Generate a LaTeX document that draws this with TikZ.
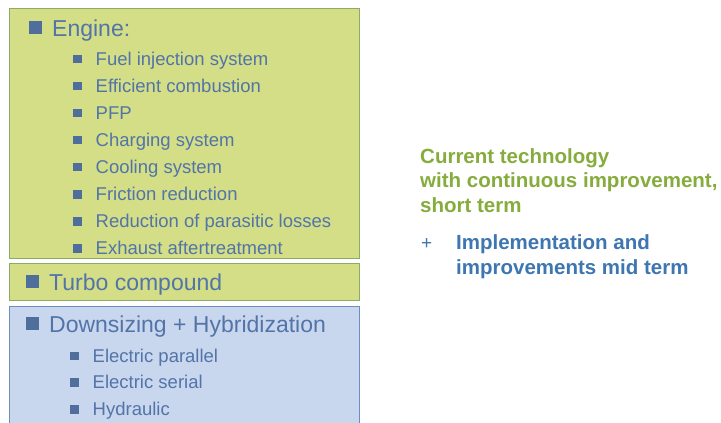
\documentclass[tikz,border=0pt]{standalone}
\usepackage{fontspec}
\setmainfont{Liberation Sans}
\usepackage{tikz}
\usetikzlibrary{
    positioning
}
\definecolor{enginefill}{RGB}{212,222,134}
\definecolor{engineline}{RGB}{138,172,104}
\definecolor{hybridfill}{RGB}{201,215,238}
\definecolor{hybridline}{RGB}{108,142,188}
\definecolor{itemtext}{RGB}{82,116,168}
\definecolor{bulletcol}{RGB}{80,110,156}
\definecolor{termgreen}{RGB}{134,172,62}
\definecolor{termblue}{RGB}{62,118,178}
\newcommand{\bigsq}{\textcolor{bulletcol}{\rule[2pt]{13pt}{13pt}}\hspace{10pt}}
\newcommand{\smallsq}{\textcolor{bulletcol}{\rule[2pt]{8.5pt}{8.5pt}}\hspace{14pt}}
\tikzset{
    enginebox/.style = {
        rectangle,
        draw=engineline,
        line width=1.4pt,
        fill=enginefill,
        minimum width=350pt,
        anchor=north west
    },
    hybridbox/.style = {
        rectangle,
        draw=hybridline,
        line width=1.4pt,
        fill=hybridfill,
        minimum width=350pt,
        anchor=north west
    },
    mainitem/.style = {
        anchor=base west,
        inner sep=0pt,
        text=itemtext,
        font=\fontsize{23}{27}\selectfont
    },
    subitem/.style = {
        inner sep=0pt,
        text=itemtext,
        text height=14pt,
        text depth=4pt,
        font=\fontsize{18.5}{22}\selectfont
    },
    termnote/.style = {
        anchor=base west,
        inner sep=0pt,
        align=left,
        font=\fontsize{20.5}{24.5}\selectfont\bfseries
    }
}
\begin{document}
\begin{tikzpicture}[x=1pt,y=1pt]
\useasboundingbox (0,0) rectangle (721,-423);
\fill[white] (0,0) rectangle (721,-423);

% boxes
\node (engine) [enginebox, minimum height=250pt] at (9,-8) {};
\node (turbo) [enginebox, minimum height=37pt] at (9,-263) {};
\node (hybrid) [hybridbox, minimum height=130pt] at (9,-306) {};

% engine items
\node (enginehead) [mainitem] at (29,-36) {\bigsq Engine:};
\node (fuel) [subitem, anchor=base west] at (73,-65) {\smallsq Fuel injection system};
\node (combustion) [subitem, below right=8.7pt and 0pt of fuel.south west] {\smallsq Efficient combustion};
\node (pfp) [subitem, below right=8.7pt and 0pt of combustion.south west] {\smallsq PFP};
\node (charging) [subitem, below right=8.7pt and 0pt of pfp.south west] {\smallsq Charging system};
\node (cooling) [subitem, below right=8.7pt and 0pt of charging.south west] {\smallsq Cooling system};
\node (friction) [subitem, below right=8.7pt and 0pt of cooling.south west] {\smallsq Friction reduction};
\node (parasitic) [subitem, below right=8.7pt and 0pt of friction.south west] {\smallsq Reduction of parasitic losses};
\node (exhaust) [subitem, below right=8.7pt and 0pt of parasitic.south west] {\smallsq Exhaust aftertreatment};

% turbo compound
\node (turbohead) [mainitem] at (26,-290) {\bigsq Turbo compound};

% downsizing and hybrid items
\node (hybridhead) [mainitem] at (26,-332) {\bigsq Downsizing + Hybridization};
\node (parallel) [subitem, anchor=base west] at (70,-362) {\smallsq Electric parallel};
\node (serial) [subitem, below right=8.5pt and 0pt of parallel.south west] {\smallsq Electric serial};
\node (hydraulic) [subitem, below right=8.5pt and 0pt of serial.south west] {\smallsq Hydraulic};

% notes on the right (base = last line)
\node (current) [termnote, text=termgreen] at (420,-212) {Current technology\\with continuous improvement,\\short term};
\node (plus) [termnote, text=termblue, font=\fontsize{19}{24}\selectfont] at (421,-249) {+};
\node (midterm) [termnote, text=termblue, font=\fontsize{20.5}{25}\selectfont\bfseries] at (456,-274) {Implementation and\\improvements mid term};
\end{tikzpicture}
\end{document}
